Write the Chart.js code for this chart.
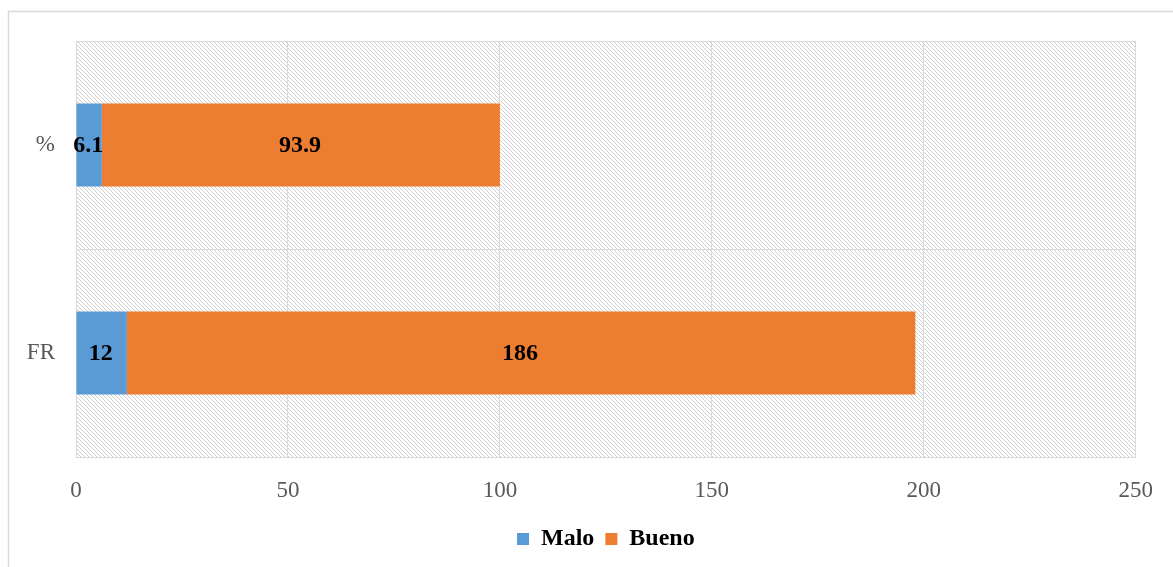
<!DOCTYPE html>
<html><head><meta charset="utf-8">
<script src="https://cdn.jsdelivr.net/npm/chart.js@4/dist/chart.umd.min.js"></script>
<style>html,body{margin:0;padding:0;background:#fff}#wrap{width:1173px;height:567px;position:relative}</style>
</head><body><div id="wrap"><canvas id="c" width="1173" height="567"></canvas></div>
<script>
const categories = ["%", "FR"];
const maloValues = [6.1, 12];
const buenoValues = [93.9, 186];
const seriesNames = ["Malo", "Bueno"];
const xTicks = [0, 50, 100, 150, 200, 250];

const FONT = "'Liberation Serif', 'Times New Roman', serif";

function makePattern(ctx) {
  const p = document.createElement('canvas');
  p.width = 4; p.height = 4;
  const g = p.getContext('2d');
  g.fillStyle = '#ffffff'; g.fillRect(0,0,4,4);
  g.strokeStyle = '#cfcfcf'; g.lineWidth = 1;
  g.beginPath();
  g.moveTo(-1,-1); g.lineTo(5,5);
  g.moveTo(-1,3); g.lineTo(1,5);
  g.moveTo(3,-1); g.lineTo(5,1);
  g.stroke();
  return ctx.createPattern(p, 'repeat');
}

const bgPlugin = {
  id: 'bg',
  beforeDraw(chart) {
    const ctx = chart.ctx;
    ctx.save();
    ctx.fillStyle = '#fff';
    ctx.fillRect(0,0,chart.width,chart.height);
    ctx.strokeStyle = '#d9d9d9'; ctx.lineWidth = 1.5;
    ctx.strokeRect(8.5, 11.5, chart.width + 10, chart.height + 10);
    const a = chart.chartArea;
    ctx.fillStyle = makePattern(ctx);
    ctx.fillRect(a.left, a.top, a.right - a.left, a.bottom - a.top);
    ctx.restore();
  }
};

const labelPlugin = {
  id: 'lbl',
  afterDatasetsDraw(chart) {
    const ctx = chart.ctx;
    ctx.save();
    ctx.font = "bold 24px " + FONT;
    ctx.fillStyle = '#000';
    ctx.textAlign = 'center';
    ctx.textBaseline = 'middle';
    chart.data.datasets.forEach((ds, di) => {
      chart.getDatasetMeta(di).data.forEach((bar, i) => {
        const cx = (bar.x + bar.base) / 2;
        ctx.fillText(String(ds.data[i]), cx - 1, bar.y + 1);
      });
    });
    ctx.restore();
  }
};

new Chart(document.getElementById('c'), {
  type: 'bar',
  data: {
    labels: categories,
    datasets: [
      { label: seriesNames[0], data: maloValues, backgroundColor: '#5b9bd5', barPercentage: 0.4, categoryPercentage: 1 },
      { label: seriesNames[1], data: buenoValues, backgroundColor: '#ed7d31', barPercentage: 0.4, categoryPercentage: 1 }
    ]
  },
  options: {
    indexAxis: 'y',
    responsive: false,
    animation: false,
    layout: { padding: { top: 41, right: 37, left: 0, bottom: 6 } },
    scales: {
      x: {
        stacked: true, min: 0, max: 250,
        afterBuildTicks(s) { s.ticks = xTicks.map(v => ({ value: v })); },
        grid: { color: '#d9d9d9', lineWidth: 1, drawTicks: false },
        border: { color: '#d9d9d9' },
        ticks: { color: '#595959', font: { family: FONT, size: 23 }, padding: 20 },
        afterFit(s) { s.height = 59; }
      },
      y: {
        stacked: true,
        grid: { color: '#d9d9d9', lineWidth: 1, drawTicks: false, offset: true },
        border: { color: '#d9d9d9' },
        ticks: { color: '#595959', font: { family: FONT, size: 23 }, padding: 21 },
        afterFit(s) { s.width = 76; }
      }
    },
    plugins: {
      legend: {
        position: 'bottom',
        fullSize: false,
        labels: { color: '#000', font: { family: FONT, size: 24, weight: 'bold' }, boxWidth: 12, boxHeight: 12, padding: 11 }
      },
      tooltip: { enabled: false }
    }
  },
  plugins: [bgPlugin, labelPlugin]
});
</script></body></html>
